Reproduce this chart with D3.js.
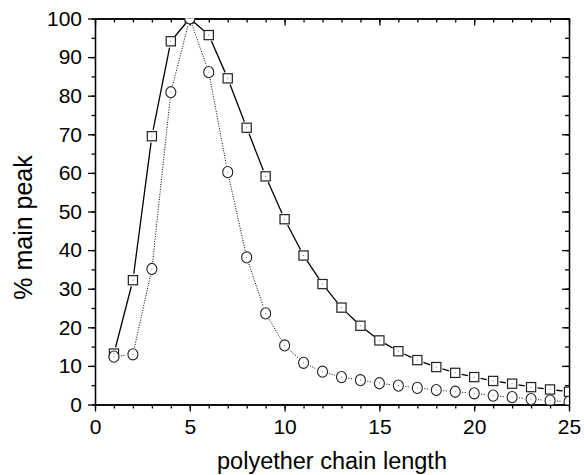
<!DOCTYPE html>
<html>
<head>
<meta charset="utf-8">
<script src="https://cdn.jsdelivr.net/npm/d3@7"></script>
<style>
  body { margin: 0; background: #fff; }
  text { font-family: "Liberation Sans", Arial, sans-serif; fill: #000; }
</style>
</head>
<body>
<div id="chart"></div>
<script>
// Chart data
var chainLength = [1, 2, 3, 4, 5, 6, 7, 8, 9, 10, 11, 12, 13, 14, 15, 16, 17, 18, 19, 20, 21, 22, 23, 24, 25];
var squareSeries = [13.2, 32.2, 69.5, 94.1, 100, 95.7, 84.5, 71.7, 59.1, 48.0, 38.6, 31.2, 25.1, 20.4, 16.6, 13.8, 11.5, 9.7, 8.2, 7.1, 6.1, 5.4, 4.5, 3.9, 3.3];
var circleSeries = [12.4, 13.0, 35.1, 80.9, 100, 86.1, 60.2, 38.1, 23.6, 15.3, 10.8, 8.5, 7.1, 6.3, 5.5, 4.9, 4.3, 3.75, 3.3, 2.9, 2.3, 1.9, 1.4, 1.0, 0.7];
var xTicks = [0, 5, 10, 15, 20, 25];
var yTicks = [0, 10, 20, 30, 40, 50, 60, 70, 80, 90, 100];

var svgWidth = 584;
var svgHeight = 475;

var margin = { top: 18.5, right: 15, bottom: 70.5, left: 95 };
var width = svgWidth - margin.left - margin.right;
var height = svgHeight - margin.top - margin.bottom;

var svg = d3.select("#chart")
    .append("svg")
    .attr("width", svgWidth)
    .attr("height", svgHeight);

var chartGroup = svg.append("g")
    .attr("transform", `translate(${margin.left}, ${margin.top})`);

// clip so markers at the edges get cut by the frame
svg.append("defs").append("clipPath")
    .attr("id", "plotClip")
    .append("rect")
    .attr("width", width)
    .attr("height", height);

// Scales
var xScale = d3.scaleLinear().domain([0, 25]).range([0, width]);
var yScale = d3.scaleLinear().domain([0, 100]).range([height, 0]);

var minorX = d3.range(0, 26);
var minorY = d3.range(0, 101, 5);

// Bottom axis: labelled major ticks + small minor ticks, pointing out
chartGroup.append("g")
    .attr("class", "axis")
    .attr("transform", `translate(0, ${height})`)
    .call(d3.axisBottom(xScale).tickValues(minorX).tickSize(4).tickSizeOuter(0).tickFormat(""));
chartGroup.append("g")
    .attr("class", "axis label-x")
    .attr("transform", `translate(0, ${height})`)
    .call(d3.axisBottom(xScale).tickValues(xTicks).tickSize(7).tickSizeOuter(0).tickPadding(8));

// Left axis
chartGroup.append("g")
    .attr("class", "axis")
    .call(d3.axisLeft(yScale).tickValues(minorY).tickSize(3.5).tickSizeOuter(0).tickFormat(""));
chartGroup.append("g")
    .attr("class", "axis label-y")
    .call(d3.axisLeft(yScale).tickValues(yTicks).tickSize(7).tickSizeOuter(0).tickPadding(6));

// Top axis, ticks pointing inside
chartGroup.append("g")
    .attr("class", "axis")
    .call(d3.axisBottom(xScale).tickValues(minorX).tickSize(4).tickSizeOuter(0).tickFormat(""));
chartGroup.append("g")
    .attr("class", "axis")
    .call(d3.axisBottom(xScale).tickValues(xTicks).tickSize(7).tickSizeOuter(0).tickFormat(""));

// Right axis, ticks pointing inside
chartGroup.append("g")
    .attr("class", "axis")
    .attr("transform", `translate(${width}, 0)`)
    .call(d3.axisLeft(yScale).tickValues(minorY).tickSize(4).tickSizeOuter(0).tickFormat(""));
chartGroup.append("g")
    .attr("class", "axis")
    .attr("transform", `translate(${width}, 0)`)
    .call(d3.axisLeft(yScale).tickValues(yTicks).tickSize(7).tickSizeOuter(0).tickFormat(""));

chartGroup.selectAll(".axis path, .axis line")
    .attr("stroke", "#000")
    .attr("stroke-width", 1.3);
chartGroup.selectAll(".axis text")
    .attr("font-size", "21px")
    .attr("font-family", "'Liberation Sans', Arial, sans-serif")
    .attr("fill", "#000");

// Line segments that stop short of the markers
function segments(values, gap) {
    var segs = [];
    for (var i = 0; i < values.length - 1; i++) {
        var x1 = xScale(chainLength[i]), y1 = yScale(values[i]);
        var x2 = xScale(chainLength[i + 1]), y2 = yScale(values[i + 1]);
        var len = Math.hypot(x2 - x1, y2 - y1);
        if (len <= gap * 2 + 1) continue;
        var ux = (x2 - x1) / len, uy = (y2 - y1) / len;
        segs.push({ x1: x1 + ux * gap, y1: y1 + uy * gap, x2: x2 - ux * gap, y2: y2 - uy * gap });
    }
    return segs;
}

var plot = chartGroup.append("g").attr("clip-path", "url(#plotClip)");

// square series (solid line)
plot.selectAll(".sqline")
    .data(segments(squareSeries, 6.5))
    .enter()
    .append("line")
    .attr("x1", d => d.x1).attr("y1", d => d.y1)
    .attr("x2", d => d.x2).attr("y2", d => d.y2)
    .attr("stroke", "#000")
    .attr("stroke-width", 1.3);

plot.selectAll(".sq")
    .data(squareSeries)
    .enter()
    .append("rect")
    .attr("x", (d, i) => xScale(chainLength[i]) - 4.6)
    .attr("y", d => yScale(d) - 4.6)
    .attr("width", 9.2)
    .attr("height", 9.2)
    .attr("fill", "#fff")
    .attr("stroke", "#222")
    .attr("stroke-width", 1.2);

// circle series (dotted line)
plot.selectAll(".ciline")
    .data(segments(circleSeries, 7))
    .enter()
    .append("line")
    .attr("x1", d => d.x1).attr("y1", d => d.y1)
    .attr("x2", d => d.x2).attr("y2", d => d.y2)
    .attr("stroke", "#000")
    .attr("stroke-width", 1)
    .attr("stroke-dasharray", "1,1.5");

plot.selectAll(".ci")
    .data(circleSeries)
    .enter()
    .append("ellipse")
    .attr("cx", (d, i) => xScale(chainLength[i]))
    .attr("cy", d => yScale(d))
    .attr("rx", 5)
    .attr("ry", 5.6)
    .attr("fill", "#fff")
    .attr("stroke", "#222")
    .attr("stroke-width", 1.1);

// tiny centre dots in every marker
plot.selectAll(".dot")
    .data(squareSeries.map((v, i) => [chainLength[i], v]).concat(circleSeries.map((v, i) => [chainLength[i], v])))
    .enter()
    .append("rect")
    .attr("x", d => xScale(d[0]) - 0.5)
    .attr("y", d => yScale(d[1]) - 0.5)
    .attr("width", 1)
    .attr("height", 1)
    .attr("fill", "#777");

// Axis titles
chartGroup.append("text")
    .attr("x", width / 2)
    .attr("y", height + 64)
    .attr("text-anchor", "middle")
    .attr("font-size", "23.5px")
    .text("polyether chain length");

chartGroup.append("text")
    .attr("transform", "rotate(-90)")
    .attr("x", -(227.5 - margin.top))
    .attr("y", 32 - margin.left)
    .attr("text-anchor", "middle")
    .attr("font-size", "25px")
    .text("% main peak");
</script>
</body>
</html>
